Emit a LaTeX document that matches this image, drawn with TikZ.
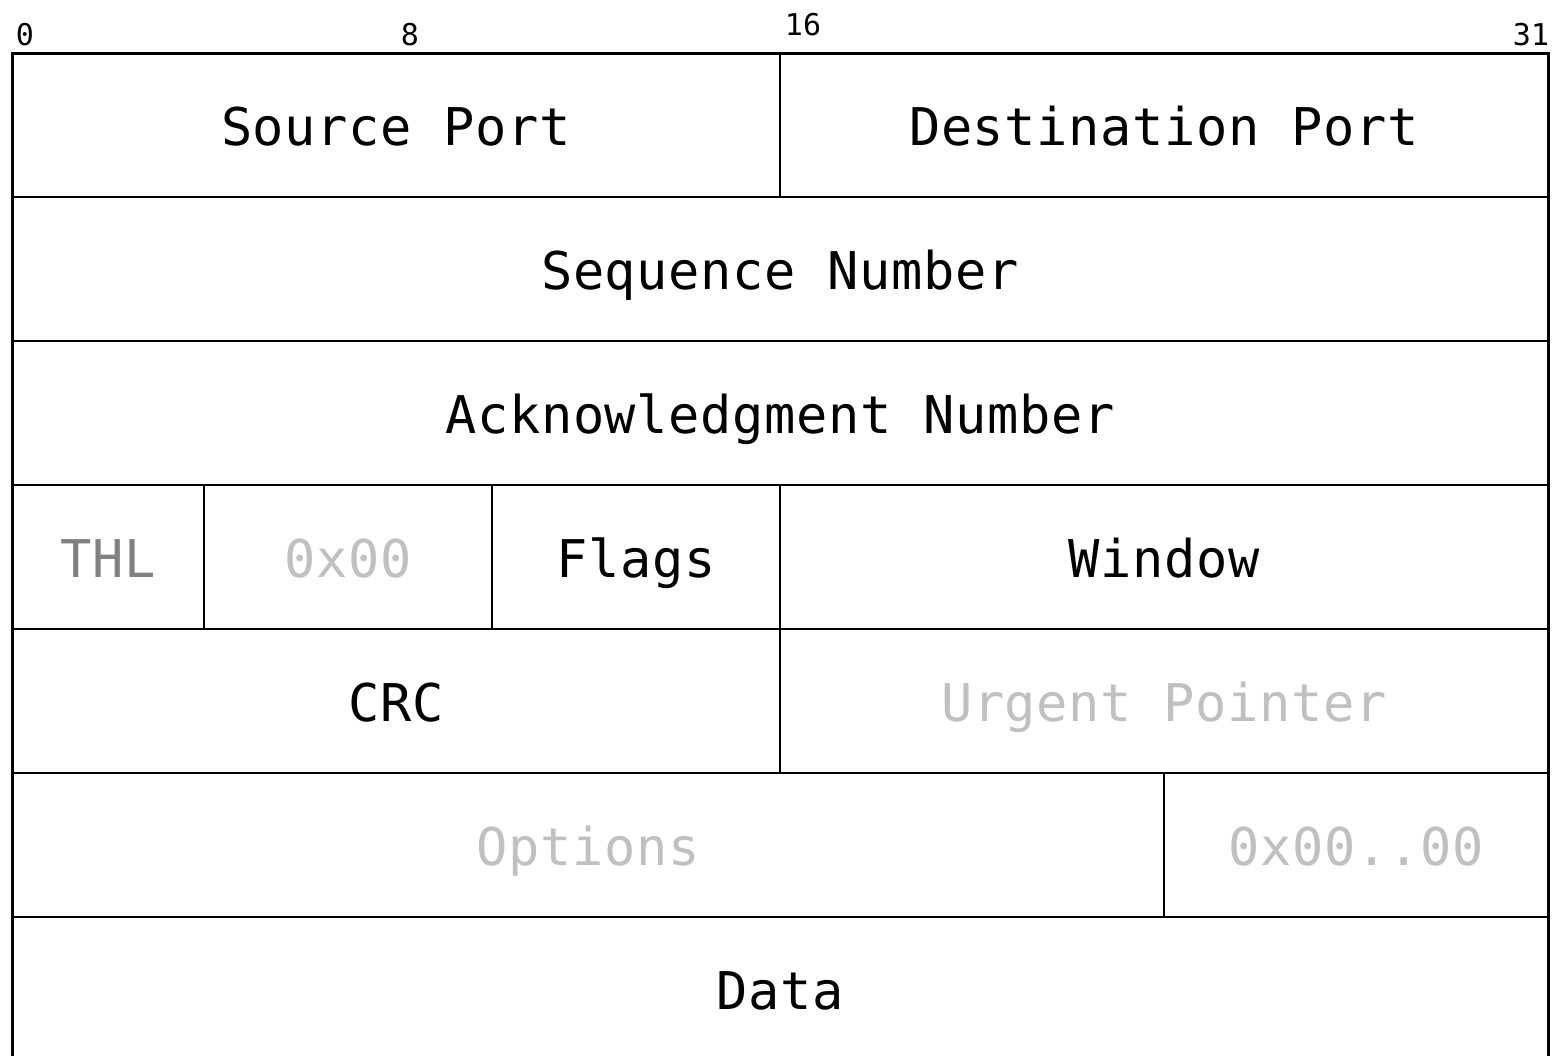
\documentclass[tikz,border=0pt]{standalone}
\usepackage{fontspec}
\setmonofont{DejaVu Sans Mono}
\newfontfamily\fieldfont{DejaVu Sans Mono}[LetterSpace=1.2]
\definecolor{midgray}{HTML}{808080}
\definecolor{lightgray}{HTML}{C0C0C0}
\begin{document}
\begin{tikzpicture}[x=1pt,y=-1pt,
  field/.style={font=\fontsize{52}{60}\selectfont\fieldfont, anchor=base, inner sep=0pt},
  bitlbl/.style={font=\fontsize{30}{36}\selectfont\ttfamily, anchor=base, inner sep=0pt},
  outerline/.style={line width=3pt},
  innerline/.style={line width=2pt}]
\useasboundingbox (0,0) rectangle (1554,1055);
\fill[white] (0,0) rectangle (1554,1055);
\begin{scope}
\clip (0,0) rectangle (1554,1055);
% outer border (bottom open)
\draw[outerline] (12,1060) -- (12,53) -- (1548,53) -- (1548,1060);
% row separators
\foreach \yy in {197,341,485,629,773,917}
  \draw[innerline] (12,\yy) -- (1548,\yy);
% column separators
\draw[innerline] (780,53) -- (780,197);
\draw[innerline] (780,485) -- (780,773);
\draw[innerline] (204,485) -- (204,629);
\draw[innerline] (492,485) -- (492,629);
\draw[innerline] (1164,773) -- (1164,917);
\end{scope}
% bit labels
\node[bitlbl] (b0) at (25,45) {0};
\node[bitlbl] (b8) at (410,45) {8};
\node[bitlbl] (b16) at (803,35) {16};
\node[bitlbl] (b31) at (1531,45) {31};
% fields
\node[field] (srcport) at (396,145) {Source Port};
\node[field] (dstport) at (1164,145) {Destination Port};
\node[field] (seq) at (780,289) {Sequence Number};
\node[field] (ack) at (780,433) {Acknowledgment Number};
\node[field, text=midgray] (thl) at (108,577) {THL};
\node[field, text=lightgray] (rsv) at (348,577) {0x00};
\node[field] (flags) at (636,577) {Flags};
\node[field] (window) at (1164,577) {Window};
\node[field] (crc) at (396,721) {CRC};
\node[field, text=lightgray] (urg) at (1164,721) {Urgent Pointer};
\node[field, text=lightgray] (opts) at (588,865) {Options};
\node[field, text=lightgray] (pad) at (1356,865) {0x00..00};
\node[field] (data) at (780,1009) {Data};
\end{tikzpicture}
\end{document}
